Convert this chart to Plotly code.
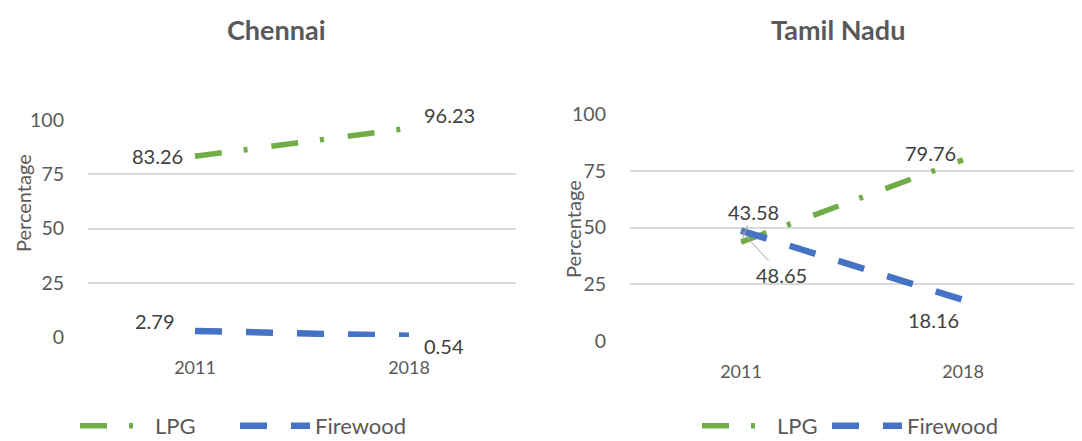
import plotly.graph_objects as go

# ── data ──────────────────────────────────────────────────────────────────────
years = ["2011", "2018"]
regions = ["Chennai", "Tamil Nadu"]
lpg_chennai = [83.26, 96.23]
firewood_chennai = [2.79, 0.54]
lpg_tn = [43.58, 79.76]
firewood_tn = [48.65, 18.16]

GREEN = "#70AD47"
BLUE = "#4472C4"
GREY = "#595959"
FONT = "Lato, 'Open Sans', sans-serif"
W, H = 1066, 433
OX, OY = 8, 8  # page body margin


def px(x):  # page x -> paper fraction
    return (x - OX) / W


def py(y):  # page y -> paper fraction
    return 1 - (y - OY) / H


fig = go.Figure()

# each series gets its own legend box so entries can sit where the original has them
panels = [
    (lpg_chennai, firewood_chennai, "x", "y", "legend", "legend2"),
    (lpg_tn, firewood_tn, "x2", "y2", "legend3", "legend4"),
]
for lpg, fw, xa, ya, lg_a, lg_b in panels:
    fig.add_trace(go.Scatter(
        x=years, y=lpg, name="LPG", mode="lines", xaxis=xa, yaxis=ya, legend=lg_a,
        line=dict(color=GREEN, width=5.5, dash="27px,22px,4px,24px"),
        hoverinfo="skip",
    ))
    fig.add_trace(go.Scatter(
        x=years, y=fw, name="Firewood", mode="lines", xaxis=xa, yaxis=ya, legend=lg_b,
        line=dict(color=BLUE, width=6.5, dash="27px,24px"),
        hoverinfo="skip",
    ))

# ── data labels (offsets in px: dx, dy, leader line?) ────────────────────────
label_style = {
    ("x", "y"): [
        (lpg_chennai, [(-38, 0, False), (40, -13, False)]),
        (firewood_chennai, [(-40, -10, False), (35, 10, False)]),
    ],
    ("x2", "y2"): [
        (lpg_tn, [(12, -30, True), (-33, -7, False)]),
        (firewood_tn, [(40, 44, True), (-30, 20, False)]),
    ],
}
for (xa, ya), series in label_style.items():
    for vals, offs in series:
        for i, (v, (dx, dy, leader)) in enumerate(zip(vals, offs)):
            ann = dict(
                x=i, y=v, xref=xa, yref=ya, text=f"{v:.2f}",
                xanchor="center", yanchor="middle",
                font=dict(size=20, color="#404040", family=FONT),
            )
            if leader:
                ann.update(showarrow=True, ax=dx, ay=dy, arrowhead=0,
                           arrowwidth=1, arrowcolor="#A6A6A6", standoff=0)
            else:
                ann.update(showarrow=False, xshift=dx, yshift=-dy)
            fig.add_annotation(**ann)

# ── panel titles and axis titles ──────────────────────────────────────────────
for name, xc in zip(regions, [276, 838]):
    fig.add_annotation(
        x=px(xc), y=py(30), xref="paper", yref="paper", showarrow=False,
        xanchor="center", yanchor="middle",
        text=f"<b>{name}</b>", font=dict(size=27, color=GREY, family=FONT),
    )
for xc, yc in [(23, 203), (573, 229)]:
    fig.add_annotation(
        x=px(xc), y=py(yc), xref="paper", yref="paper", showarrow=False,
        xanchor="center", yanchor="middle",
        text="Percentage", textangle=-90,
        font=dict(size=20, color=GREY, family=FONT),
    )

xcommon = dict(type="category", categoryorder="array", categoryarray=years,
               range=[-0.5, 1.5], showgrid=False, showline=False, zeroline=False,
               ticks="", tickfont=dict(size=18, color=GREY, family=FONT),
               ticklabelstandoff=18)
ycommon = dict(range=[0, 100], tickvals=[0, 25, 50, 75, 100], showgrid=True,
               gridcolor="#D9D9D9", gridwidth=1.5, zeroline=False, showline=False,
               ticks="", tickfont=dict(size=19.5, color=GREY, family=FONT),
               ticklabelstandoff=23)

legend_common = dict(orientation="h", yanchor="middle", xanchor="left", y=py(426),
                     font=dict(size=22, color=GREY, family=FONT), itemwidth=70,
                     bgcolor="rgba(0,0,0,0)")

fig.update_layout(
    width=W, height=H,
    margin=dict(l=0, r=0, t=0, b=0, autoexpand=False),
    plot_bgcolor="white", paper_bgcolor="white",
    font=dict(family=FONT, color=GREY),
    xaxis=dict(domain=[px(88), px(516)], anchor="y", **xcommon),
    yaxis=dict(domain=[py(337), py(120)], anchor="x", **ycommon),
    xaxis2=dict(domain=[px(630), 1.0], anchor="y2", **xcommon),
    yaxis2=dict(domain=[py(341), py(114)], anchor="x2", **ycommon),
    legend=dict(x=px(75), **legend_common),
    legend2=dict(x=px(235), **legend_common),
    legend3=dict(x=px(697), **legend_common),
    legend4=dict(x=px(827), **legend_common),
    showlegend=True,
)

fig.write_html("out.html")
